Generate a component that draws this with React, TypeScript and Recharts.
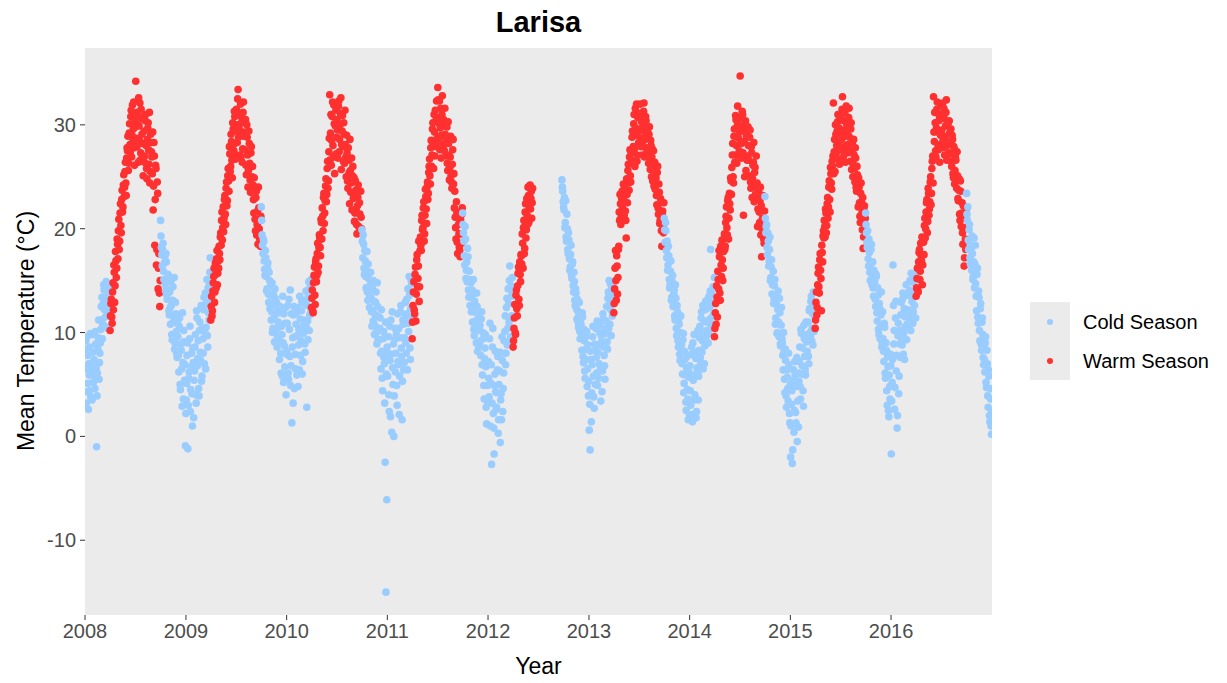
import { ScatterChart, Scatter, XAxis, YAxis, CartesianGrid } from "recharts";

// Daily mean temperature at Larisa. Each segment has two readings
// every 3 days: `a` from the segment start, `b` offset by 1.5 days.

// Jan 1 – Mar 31 2008
const cold2008a = [
  6.5, 9.2, 4.3, 7.8, 2.6, 5.9, 8.6, 3.8, 6.7, 9.8, 5.2,
  7.4, 4.6, 8.9, -1.0, 6.1, 9.5, 5.5, 8.0, 10.3,
  11.2, 9.4, 12.8, 14.1, 10.6, 13.3, 14.8, 11.9, 13.6, 12.4, 14.5,
];
const cold2008b = [
  8.4, 3.2, 9.6, 5.1, 7.0, 4.4, 9.9, 6.2, 3.5, 8.1, 7.3,
  5.8, 10.1, 6.6, 3.9, 8.4, 11.2, 7.1, 9.0, 12.5,
  13.4, 10.8, 14.6, 12.2, 11.5, 14.9, 13.0, 10.4, 14.2, 13.7, 12.0,
];
const warm2008a = [
  10.2, 12.8, 11.5, 13.9, 12.2, 15.8, 14.5, 16.9, 16.2, 18.5,
  19.8, 18.0, 21.5, 20.3, 22.8, 21.6, 24.2, 23.1, 25.5, 24.4, 26.8,
  27.5, 25.6, 29.2, 28.1, 30.8, 26.9, 31.9, 29.6, 27.8, 30.4,
  34.2, 28.7, 31.2, 26.4, 29.9, 32.1, 27.3, 30.6, 28.2, 25.1,
  29.4, 27.0, 31.0, 25.8, 28.6, 30.2, 26.2, 24.4, 29.1, 27.4,
  25.3, 21.8, 28.3, 18.4, 26.1, 16.5, 24.5, 14.2, 17.6, 12.5,
];
const warm2008b = [
  11.6, 13.2, 10.9, 14.8, 16.5, 12.9, 17.8, 15.3, 19.0, 17.1,
  20.9, 18.8, 22.4, 19.6, 23.7, 22.1, 25.2, 24.0, 26.4, 23.2, 27.8,
  28.9, 26.3, 30.1, 27.4, 31.4, 29.0, 28.4, 32.2, 26.1, 29.8,
  31.0, 27.9, 30.0, 32.6, 28.5, 26.6, 31.5, 29.1, 27.0, 30.8,
  26.4, 30.4, 28.0, 24.8, 29.7, 27.6, 31.2, 25.5, 28.3, 26.9,
  29.3, 24.1, 27.0, 22.8, 25.8, 18.0, 23.4, 16.2, 13.8, 15.0,
];
// Oct 1 2008 – Mar 31 2009
const cold0809a = [
  20.8, 18.2, 16.4, 18.6, 15.1, 17.3, 14.0, 16.8, 13.2, 15.6, 12.1,
  13.9, 10.8, 12.6, 9.3, 14.4, 11.5, 8.4, 12.9, 10.1, 7.6,
  9.6, 6.2, 11.4, 4.5, 8.3, 2.9, 7.1, 10.2, 5.4, -0.9,
  3.5, 7.8, -1.2, 5.6, 9.4, 2.4, 6.7, 4.1, 8.5, 1.8,
  6.3, 9.8, 3.2, 11.4, 7.5, 4.6, 10.2, 8.1, 12.6, 5.8,
  9.4, 12.2, 7.0, 13.8, 10.5, 15.1, 8.6, 11.9, 14.6, 17.2,
];
const cold0809b = [
  19.3, 17.5, 18.0, 15.9, 16.7, 14.6, 17.6, 13.6, 15.0, 14.1, 11.7,
  12.4, 14.9, 9.8, 13.1, 11.0, 15.3, 9.0, 11.8, 8.0, 10.9,
  7.8, 10.6, 5.0, 8.9, 6.5, 11.9, 3.6, 9.1, 6.9, 2.2,
  5.1, 9.0, 3.0, 6.2, 10.6, 4.5, 8.0, 1.0, 7.1, 5.4,
  8.6, 4.0, 12.1, 6.8, 9.2, 3.9, 11.0, 7.3, 5.3, 10.4,
  8.0, 13.4, 10.0, 6.5, 12.8, 9.7, 14.3, 11.2, 15.8, 13.0,
];
const warm2009a = [
  11.2, 13.5, 12.1, 14.8, 16.2, 13.9, 15.6, 17.1, 14.6, 16.9,
  18.3, 17.0, 19.6, 20.8, 18.9, 22.1, 21.0, 23.2, 20.4, 24.5, 22.7,
  25.8, 23.6, 27.2, 26.0, 28.4, 24.9, 29.6, 27.5, 30.8, 26.7,
  31.5, 28.3, 33.4, 29.8, 27.1, 32.0, 30.2, 26.4, 31.2, 28.9,
  27.6, 30.5, 25.2, 28.8, 24.0, 29.4, 26.3, 23.5, 27.9, 25.0,
  24.2, 21.5, 22.9, 19.8, 23.6, 20.4, 18.5, 22.0, 19.1, 18.3,
];
const warm2009b = [
  12.5, 11.6, 14.0, 15.4, 12.9, 16.7, 14.3, 17.9, 15.7, 16.2,
  17.6, 19.2, 18.4, 21.6, 20.1, 19.7, 22.8, 21.4, 23.9, 22.2, 25.1,
  24.6, 27.9, 25.5, 29.1, 26.6, 30.2, 28.1, 31.3, 27.0, 29.4,
  30.0, 32.5, 28.8, 31.0, 29.4, 26.9, 30.7, 27.7, 32.2, 29.3,
  29.0, 26.1, 30.0, 27.1, 25.6, 28.2, 24.7, 27.3, 23.9, 26.0,
  22.8, 24.9, 20.9, 23.0, 19.4, 21.7, 24.0, 20.0, 18.9, 21.2,
];
const cold0910a = [
  22.1, 19.4, 17.6, 18.8, 16.1, 17.9, 15.4, 14.2, 16.7, 12.9, 15.0,
  13.6, 11.2, 14.8, 10.4, 12.7, 9.1, 13.3, 11.8, 8.6, 12.2,
  10.5, 7.4, 11.9, 6.1, 9.8, 13.5, 5.2, 8.7, 10.9, 4.0,
  8.2, 12.6, 5.5, 10.3, 14.1, 6.8, 1.3, 9.5, 11.7, 4.6,
  7.9, 10.8, 5.9, 12.4, 8.8, 6.4, 11.3, 9.2, 13.0, 7.2,
  9.9, 12.8, 8.1, 14.0, 2.8, 11.1, 13.6, 10.2, 14.4, 12.0,
];
const cold0910b = [
  20.8, 18.4, 19.0, 16.9, 15.5, 17.2, 14.0, 16.2, 13.7, 15.8, 12.3,
  14.5, 12.0, 10.0, 13.7, 11.4, 14.2, 10.1, 12.9, 9.6, 11.0,
  9.2, 12.5, 8.0, 10.6, 5.8, 9.0, 11.8, 6.7, 12.4, 7.9,
  10.9, 6.1, 13.2, 7.7, 4.9, 11.8, 8.6, 3.2, 12.5, 9.6,
  6.5, 11.9, 9.7, 4.8, 10.3, 13.5, 7.8, 12.1, 6.0, 10.6,
  11.2, 8.9, 13.1, 10.5, 12.6, 9.3, 14.9, 11.7, 13.3, 15.1,
];
const warm2010a = [
  12.4, 14.1, 11.9, 15.5, 13.6, 16.8, 14.9, 17.6, 15.8, 18.2,
  19.1, 17.4, 20.6, 22.0, 19.8, 23.4, 21.5, 24.1, 22.6, 25.8, 23.9,
  27.4, 32.9, 29.2, 26.1, 30.8, 28.0, 31.9, 25.3, 29.9, 27.2,
  30.5, 26.8, 32.3, 28.6, 31.1, 25.7, 29.4, 27.9, 30.2, 26.3,
  28.1, 25.0, 27.3, 23.9, 26.6, 22.4, 25.6, 24.4, 21.8, 26.0,
  23.2, 20.7, 24.6, 21.9, 19.5, 23.0, 20.2, 22.5, 19.9, 21.1,
];
const warm2010b = [
  13.3, 12.1, 14.8, 16.3, 12.7, 17.1, 15.5, 18.6, 16.4, 19.4,
  18.2, 20.9, 19.0, 21.2, 23.0, 20.5, 22.7, 24.8, 23.3, 26.5, 24.6,
  28.7, 26.6, 31.0, 28.5, 32.2, 27.0, 30.1, 26.9, 31.4, 28.8,
  29.5, 31.8, 27.4, 30.0, 32.6, 28.1, 30.9, 26.5, 29.1, 31.4,
  26.9, 29.0, 24.6, 27.8, 25.4, 28.6, 23.5, 26.8, 25.1, 22.9,
  24.9, 21.5, 23.7, 20.4, 22.2, 24.2, 19.6, 21.4, 23.6, 20.0,
];
const cold1011a = [
  19.9, 17.2, 18.5, 15.6, 16.9, 14.3, 17.8, 13.1, 15.2, 12.4, 14.6,
  13.3, 10.6, 12.1, 15.0, 9.8, 11.7, 13.9, 8.9, 12.5, 10.2,
  9.3, 11.4, 6.5, 8.2, 4.4, 10.1, 7.0, -2.5, -15.0, -6.1,
  5.8, 9.6, 2.4, 7.3, 11.2, 0.4, 6.6, 8.9, 3.9, 10.4,
  8.0, 4.9, 11.8, 6.9, 2.1, 9.5, 12.6, 7.7, 5.3, 10.8,
  7.1, 11.5, 9.0, 13.2, 6.4, 10.9, 15.4, 8.5, 12.3, 14.7,
];
const cold1011b = [
  18.8, 19.4, 16.2, 17.9, 15.4, 16.0, 13.9, 16.6, 14.0, 13.5, 15.8,
  12.0, 14.3, 11.1, 13.0, 10.7, 12.9, 10.0, 14.8, 9.3, 11.5,
  10.4, 8.0, 12.2, 5.6, 9.4, 7.6, 3.2, 11.0, 6.0, 8.6,
  8.0, 4.0, 10.6, 1.9, 7.9, 12.0, 5.0, 0.0, 9.3, 6.2,
  9.8, 3.0, 7.2, 10.4, 5.8, 12.0, 8.5, 1.6, 11.2, 6.4,
  9.5, 12.9, 8.0, 11.8, 14.2, 10.1, 13.6, 7.4, 15.0, 11.3,
];
const warm2011a = [
  9.4, 12.6, 14.9, 11.8, 16.3, 13.7, 17.5, 15.2, 18.8, 14.4,
  19.2, 17.9, 21.3, 20.1, 22.6, 19.5, 23.8, 21.9, 24.0, 22.8, 25.4,
  26.7, 24.3, 28.5, 27.1, 30.2, 25.8, 29.3, 31.4, 27.9, 30.7,
  33.6, 28.4, 32.3, 29.7, 26.8, 31.0, 28.9, 30.5, 27.5, 29.1,
  27.0, 29.8, 25.6, 28.2, 24.7, 26.9, 25.1, 23.9, 27.6, 24.3,
  22.0, 21.1, 19.0, 21.6, 17.6, 20.4, 18.2, 17.3, 19.5, 21.4,
];
const warm2011b = [
  11.0, 13.9, 12.2, 15.6, 11.1, 17.0, 14.4, 16.4, 13.0, 17.9,
  18.4, 20.8, 19.9, 22.0, 18.8, 21.3, 23.1, 20.5, 24.5, 23.4, 26.0,
  25.1, 27.8, 26.0, 29.6, 28.2, 31.0, 27.0, 30.4, 32.3, 28.8,
  32.4, 30.1, 27.6, 31.6, 29.0, 32.8, 27.9, 30.0, 31.6, 28.3,
  28.7, 26.3, 30.3, 27.1, 25.9, 28.9, 24.5, 26.2, 28.6, 25.3,
  23.6, 20.1, 22.6, 18.7, 21.0, 19.5, 17.9, 20.9, 18.6, 22.0,
];
const cold1112a = [
  21.5, 19.6, 17.4, 20.2, 15.2, 16.8, 18.1, 14.1, 15.9, 12.6, 14.8,
  13.4, 11.0, 15.1, 9.7, 12.3, 10.5, 13.8, 8.2, 11.6, 9.0,
  10.7, 7.8, 12.0, 5.9, 9.4, 3.6, 8.5, 6.7, 1.2, 4.9,
  7.2, 3.8, 10.9, 5.1, -2.7, 8.6, 2.2, -1.7, 6.0, 4.3,
  2.8, 6.4, 0.3, 5.0, 8.1, 3.5, 1.6, 7.3, 4.6, 9.2,
  10.1, 6.9, 12.4, 8.8, 14.2, 11.0, 16.4, 9.6, 13.5, 15.3,
];
const cold1112b = [
  20.4, 18.8, 16.5, 19.0, 16.0, 14.9, 17.3, 13.4, 15.1, 13.8, 12.0,
  14.1, 12.0, 10.3, 13.0, 11.1, 9.0, 12.5, 10.8, 8.7, 10.2,
  9.2, 11.3, 6.9, 10.0, 4.9, 7.5, 9.8, 2.8, 7.1, 3.3,
  5.6, 9.4, 1.0, 6.9, 3.2, 10.4, 0.8, 4.9, 8.2, 2.6,
  4.2, 7.7, 1.6, 6.3, -0.6, 4.1, 9.6, 2.4, 6.1, 8.0,
  11.6, 8.0, 13.3, 10.4, 12.8, 15.0, 9.1, 14.5, 11.6, 13.9,
];
// record stops in mid June 2012
const warm2012a = [
  8.6, 10.4, 12.7, 9.8, 14.1, 11.6, 15.7, 13.2, 16.8, 14.9,
  17.4, 19.5, 16.2, 20.8, 18.1, 22.4, 19.9, 21.3, 24.0, 20.6, 23.1,
  21.9, 23.6, 22.5,
];
const warm2012b = [
  9.2, 11.4, 10.0, 13.6, 12.3, 14.5, 16.3, 12.6, 15.6, 17.5,
  16.6, 18.6, 20.1, 17.6, 21.6, 19.1, 22.9, 20.4, 23.2, 22.0, 24.2,
  22.9, 21.0, 23.9,
];
// resumes Sep 25 2012
const cold1213a = [
  24.7, 23.6,
  22.1, 23.0, 20.6, 19.2, 21.4, 18.0, 19.6, 17.1, 16.3, 18.4, 15.2,
  16.8, 13.9, 14.9, 12.6, 13.8, 11.3, 12.1, 10.5, 12.9, 9.4,
  10.8, 8.3, 11.5, 7.1, 9.2, 5.6, 8.4, 10.1, 6.5, 3.9,
  0.6, -1.3, 7.4, 4.2, 9.6, 5.8, 2.7, 8.3, 10.4, 6.1,
  4.9, 8.8, 7.0, 10.7, 3.4, 9.1, 6.3, 11.3, 7.8, 5.5,
  9.9, 12.5, 8.4, 13.9, 15.0, 10.8, 12.2, 14.3, 11.6, 13.1,
];
const cold1213b = [
  24.0, 22.6,
  21.8, 20.1, 22.7, 18.8, 20.0, 17.6, 18.9, 16.0, 17.5, 15.6, 16.6,
  14.5, 15.8, 13.1, 14.2, 12.3, 13.2, 11.0, 11.8, 10.1, 11.2,
  9.9, 11.9, 7.7, 10.3, 6.3, 9.6, 7.4, 4.8, 8.8, 5.3,
  3.1, 8.2, 1.4, 6.9, 10.6, 3.8, 8.9, 5.0, 7.6, 11.1,
  8.1, 5.6, 10.0, 6.6, 9.7, 4.3, 11.8, 8.6, 6.8, 10.4,
  11.1, 9.1, 13.3, 10.4, 12.9, 14.7, 9.7, 13.6, 12.0, 14.9,
];
const warm2013a = [
  11.9, 14.2, 17.9, 13.1, 16.4, 15.3, 18.3, 20.8, 22.4, 21.1,
  23.6, 20.9, 22.8, 24.0, 21.7, 19.1, 23.3, 25.6, 24.4, 26.9, 25.1,
  27.3, 28.8, 26.2, 30.1, 27.7, 31.6, 29.0, 26.5, 30.7, 28.3,
  29.6, 32.0, 27.9, 30.9, 28.4, 31.3, 26.9, 29.2, 30.4, 27.4,
  28.9, 26.3, 29.8, 25.7, 28.0, 26.9, 24.6, 27.5, 25.2, 23.8,
  24.9, 22.3, 26.0, 21.4, 23.5, 20.8, 22.6, 18.3, 21.7, 19.6,
];
const warm2013b = [
  12.8, 16.2, 15.0, 17.4, 13.7, 18.0, 21.6, 23.3, 20.4, 22.9,
  22.1, 24.3, 21.3, 23.8, 20.8, 24.8, 22.5, 26.2, 23.7, 27.6, 24.5,
  26.6, 29.4, 27.9, 31.0, 26.0, 29.7, 32.0, 27.1, 29.3, 31.1,
  31.0, 28.7, 30.3, 27.1, 29.8, 32.1, 28.6, 30.8, 27.8, 29.4,
  27.4, 29.1, 26.8, 28.5, 25.0, 27.7, 25.9, 24.1, 26.4, 24.6,
  23.2, 25.4, 22.0, 24.3, 20.5, 22.9, 19.8, 21.4, 20.2, 22.5,
];
const cold1314a = [
  21.0, 18.7, 19.8, 17.2, 16.0, 18.3, 15.1, 14.6, 16.9, 13.4, 15.5,
  12.9, 14.1, 11.2, 13.3, 9.7, 12.0, 8.6, 10.8, 7.3, 11.6,
  8.9, 6.0, 9.9, 5.1, 7.4, 3.3, 6.6, 4.5, 1.6, 5.7,
  6.8, 3.0, 8.6, 1.4, 5.4, 9.8, 4.0, 7.5, 2.4, 6.2,
  3.5, 8.3, 10.6, 7.1, 12.0, 9.2, 6.5, 11.1, 8.7, 13.0,
  10.2, 12.4, 9.0, 13.5, 11.3, 18.0, 12.9, 10.7, 14.4, 11.8,
];
const cold1314b = [
  19.9, 20.6, 17.9, 18.8, 16.5, 17.4, 14.3, 15.9, 13.1, 14.9, 12.5,
  13.7, 11.6, 14.6, 10.4, 12.6, 9.2, 11.3, 7.9, 10.0, 8.4,
  7.0, 9.3, 4.2, 8.2, 5.9, 2.5, 7.7, 3.6, 6.3, 2.0,
  4.4, 7.9, 2.1, 9.0, 5.9, 3.5, 8.1, 1.8, 6.6, 10.2,
  5.8, 9.5, 7.6, 11.4, 8.1, 12.6, 10.0, 7.0, 12.2, 9.6,
  11.0, 13.2, 9.9, 12.4, 14.0, 10.5, 13.7, 11.6, 12.8, 15.3,
];
const warm2014a = [
  9.6, 11.9, 10.8, 13.4, 15.9, 14.2, 17.3, 13.1, 16.5, 18.9,
  15.0, 17.8, 19.5, 18.3, 21.2, 20.1, 22.7, 19.0, 23.4, 21.8, 24.6,
  25.9, 28.2, 24.4, 29.6, 27.1, 30.5, 26.3, 31.8, 28.7, 27.5,
  34.7, 29.9, 26.8, 31.0, 21.3, 28.4, 30.2, 25.6, 29.1, 27.0,
  28.0, 25.1, 29.5, 23.9, 27.3, 24.8, 26.4, 22.6, 25.9, 24.0,
  23.1, 20.2, 24.0, 21.6, 22.7, 19.4, 17.3, 21.0, 20.4, 18.6,
];
const warm2014b = [
  10.4, 12.8, 14.5, 11.5, 15.1, 17.9, 13.8, 18.3, 15.4, 17.0,
  16.2, 19.0, 18.0, 20.6, 22.1, 19.4, 23.0, 21.0, 22.4, 24.9, 23.3,
  27.1, 25.0, 28.9, 26.4, 30.9, 28.0, 29.9, 27.0, 30.6, 29.3,
  30.7, 28.2, 31.3, 27.3, 29.6, 25.0, 30.4, 28.9, 26.6, 29.8,
  26.6, 28.8, 24.5, 27.9, 23.0, 26.1, 28.3, 25.4, 23.3, 27.0,
  24.4, 21.9, 23.5, 20.6, 24.0, 22.2, 20.0, 23.2, 19.0, 21.7,
];
const cold1415a = [
  23.1, 19.6, 20.4, 17.5, 18.8, 16.9, 19.2, 15.3, 17.0, 14.6, 15.9,
  13.2, 15.1, 11.4, 12.7, 10.0, 14.0, 9.6, 11.9, 8.7, 12.4,
  9.0, 6.4, 8.1, 4.2, 7.3, 2.8, 5.7, 3.4, 6.9, 1.3,
  -2.0, 3.1, -2.6, 5.4, 0.4, 7.2, 2.3, 4.8, -0.5, 6.1,
  5.3, 8.6, 3.6, 9.9, 6.8, 4.4, 10.7, 7.7, 5.9, 9.1,
  8.2, 11.0, 7.0, 12.3, 9.6, 13.5, 10.4, 8.8, 12.9, 11.6,
];
const cold1415b = [
  21.0, 20.2, 18.2, 19.6, 16.4, 18.0, 15.0, 16.3, 13.7, 15.1, 12.8,
  14.5, 10.8, 13.6, 9.9, 12.2, 11.0, 13.3, 8.9, 10.7, 9.4,
  7.8, 10.0, 5.5, 8.4, 3.9, 6.4, 4.6, 8.0, 2.2, 5.0,
  1.0, 4.4, -1.3, 6.4, 2.5, 5.9, 1.3, 7.6, 3.4, 0.9,
  7.2, 4.8, 10.3, 6.0, 8.5, 2.9, 9.4, 6.4, 11.0, 7.8,
  9.8, 7.7, 12.1, 10.0, 13.0, 9.2, 11.8, 13.9, 10.1, 12.6,
];
const warm2015a = [
  10.4, 12.9, 11.7, 14.6, 16.3, 13.8, 17.6, 15.2, 18.4, 16.8,
  19.8, 20.8, 19.2, 21.5, 20.3, 23.0, 22.1, 24.6, 21.6, 25.3, 23.8,
  26.0, 32.1, 27.4, 25.5, 29.1, 28.0, 30.3, 26.7, 29.7, 27.9,
  30.8, 28.6, 32.7, 26.9, 29.5, 31.2, 28.0, 30.1, 27.3, 29.0,
  31.6, 27.6, 29.6, 25.7, 28.3, 26.2, 27.1, 24.5, 26.8, 23.6,
  25.2, 22.1, 24.0, 21.2, 23.4, 22.6, 19.9, 18.1, 21.8, 20.5,
];
const warm2015b = [
  11.2, 13.9, 12.4, 15.7, 14.4, 17.0, 16.0, 12.1, 17.7, 19.3,
  19.1, 20.2, 21.9, 19.6, 22.4, 21.0, 24.0, 22.8, 25.9, 24.4, 26.5,
  27.0, 25.3, 28.6, 30.0, 27.3, 29.4, 31.0, 28.4, 26.2, 30.6,
  29.2, 31.5, 27.5, 30.4, 28.9, 26.4, 31.8, 29.7, 28.1, 30.7,
  28.8, 26.5, 30.2, 27.4, 25.0, 28.6, 25.8, 27.8, 24.0, 26.0,
  23.9, 24.9, 22.5, 20.6, 24.4, 21.5, 23.0, 19.2, 22.2, 21.0,
];
const cold1516a = [
  21.5, 19.6, 18.2, 17.1, 19.0, 15.8, 16.6, 18.5, 15.4, 14.3, 16.0,
  14.9, 12.5, 15.4, 11.1, 13.6, 9.8, 12.3, 10.6, 13.9, 9.0,
  9.4, 7.2, 10.5, 5.6, 8.3, 3.0, 6.7, 1.9, 4.8, 7.9,
  -1.7, 5.2, 16.5, 8.9, 2.6, 11.4, 6.3, 0.8, 9.7, 4.1,
  10.2, 7.6, 12.9, 8.8, 13.8, 9.9, 7.4, 11.5, 14.6, 10.8,
  12.2, 10.6, 14.1, 11.3, 15.7, 13.0, 10.9, 14.8, 12.6, 15.2,
];
const cold1516b = [
  20.4, 18.7, 19.8, 16.4, 17.7, 15.0, 18.0, 14.6, 16.8, 13.5, 15.1,
  13.2, 15.6, 11.9, 14.3, 10.3, 12.8, 9.4, 11.7, 8.6, 12.0,
  8.2, 10.9, 6.1, 9.0, 4.4, 7.7, 2.5, 5.9, 3.6, 6.8,
  3.4, 7.4, 12.6, 10.2, 4.7, 13.0, 7.8, 2.0, 10.9, 5.8,
  8.9, 11.7, 9.2, 13.2, 7.9, 12.3, 10.5, 13.6, 9.3, 12.1,
  13.6, 11.8, 15.0, 10.2, 13.9, 14.9, 12.0, 13.5, 15.6, 11.4,
];
const warm2016a = [
  13.5, 15.2, 14.1, 16.8, 18.0, 15.9, 17.4, 19.2, 16.5, 18.7,
  20.3, 19.1, 21.6, 22.8, 20.7, 23.4, 21.9, 24.5, 22.3, 25.8, 27.0,
  32.7, 28.4, 30.2, 26.9, 31.5, 29.3, 27.6, 30.9, 28.1, 31.9,
  29.5, 32.1, 27.8, 30.6, 28.9, 31.2, 26.6, 29.9, 28.3, 30.4,
  27.2, 29.6, 26.0, 28.6, 24.9, 27.7, 25.6, 26.6, 23.9, 25.1,
  22.7, 24.8, 20.8, 23.6, 21.5, 19.6, 22.2, 16.4, 20.1, 18.0,
];
const warm2016b = [
  14.3, 16.2, 13.9, 17.7, 15.1, 18.6, 16.9, 14.6, 19.0, 17.5,
  21.0, 20.0, 22.5, 19.6, 23.9, 21.3, 22.6, 25.0, 23.4, 26.5, 24.4,
  29.3, 31.2, 27.5, 29.7, 32.2, 28.0, 30.4, 26.4, 29.0, 31.0,
  30.9, 28.5, 31.6, 27.1, 29.9, 32.4, 28.0, 30.1, 27.3, 29.2,
  28.4, 26.5, 29.0, 25.3, 27.9, 24.3, 26.9, 24.6, 27.4, 22.9,
  23.7, 21.4, 24.6, 20.2, 22.5, 18.5, 21.0, 17.2, 19.0, 21.6,
];
// Oct 1 – Dec 31 2016
const cold2016a = [
  23.4, 20.8, 18.9, 19.9, 17.2, 18.4, 16.0, 17.6, 15.4, 19.1, 16.6,
  14.7, 12.1, 16.2, 10.9, 13.4, 9.2, 12.8, 8.3, 11.4, 7.6,
  8.8, 6.2, 9.6, 4.7, 7.0, 2.8, 5.8, 1.4, 3.6, 0.2,
];
const cold2016b = [
  21.4, 22.1, 18.0, 20.4, 16.6, 17.9, 19.3, 15.1, 16.8, 14.3, 18.4,
  13.5, 15.6, 11.5, 14.0, 10.2, 12.3, 8.9, 11.0, 9.8, 6.9,
  7.4, 9.0, 5.2, 8.3, 3.9, 6.4, 2.0, 4.6, 1.0, 2.4,
];

type Season = "cold" | "warm";
const SEGMENTS: { season: Season; start: [number, number, number]; a: number[]; b: number[] }[] = [
  { season: "cold", start: [2008, 1, 1], a: cold2008a, b: cold2008b },
  { season: "warm", start: [2008, 4, 1], a: warm2008a, b: warm2008b },
  { season: "cold", start: [2008, 10, 1], a: cold0809a, b: cold0809b },
  { season: "warm", start: [2009, 4, 1], a: warm2009a, b: warm2009b },
  { season: "cold", start: [2009, 10, 1], a: cold0910a, b: cold0910b },
  { season: "warm", start: [2010, 4, 1], a: warm2010a, b: warm2010b },
  { season: "cold", start: [2010, 10, 1], a: cold1011a, b: cold1011b },
  { season: "warm", start: [2011, 4, 1], a: warm2011a, b: warm2011b },
  { season: "cold", start: [2011, 10, 1], a: cold1112a, b: cold1112b },
  { season: "warm", start: [2012, 4, 1], a: warm2012a, b: warm2012b },
  { season: "cold", start: [2012, 9, 25], a: cold1213a, b: cold1213b },
  { season: "warm", start: [2013, 4, 1], a: warm2013a, b: warm2013b },
  { season: "cold", start: [2013, 10, 1], a: cold1314a, b: cold1314b },
  { season: "warm", start: [2014, 4, 1], a: warm2014a, b: warm2014b },
  { season: "cold", start: [2014, 10, 1], a: cold1415a, b: cold1415b },
  { season: "warm", start: [2015, 4, 1], a: warm2015a, b: warm2015b },
  { season: "cold", start: [2015, 10, 1], a: cold1516a, b: cold1516b },
  { season: "warm", start: [2016, 4, 1], a: warm2016a, b: warm2016b },
  { season: "cold", start: [2016, 10, 1], a: cold2016a, b: cold2016b },
];

const YEARS = [2008, 2009, 2010, 2011, 2012, 2013, 2014, 2015, 2016];
const Y_TICKS = [-10, 0, 10, 20, 30];

const DAY = 86400000;
const STEP_DAYS = 3;
const COLORS: Record<Season, string> = { cold: "#99CCFF", warm: "#FF3030" };
const FONT = "'Liberation Sans', Arial, sans-serif";

const series = SEGMENTS.map((s) => {
  const t0 = Date.UTC(s.start[0], s.start[1] - 1, s.start[2]);
  const pts = [
    ...s.a.map((v, i) => ({ date: t0 + i * STEP_DAYS * DAY, temp: v })),
    ...s.b.map((v, i) => ({ date: t0 + (i + 0.5) * STEP_DAYS * DAY, temp: v })),
  ].sort((p, q) => p.date - q.date);
  return { season: s.season, data: pts };
});

const dot = (fill: string) => (props: any) =>
  <circle cx={props.cx} cy={props.cy} r={3.8} fill={fill} />;

export default function App() {
  return (
    <div style={{ position: "relative", width: 1227, height: 683, background: "#fff", fontFamily: FONT }}>
      <style>{"body{margin:0}"}</style>

      <div style={{ position: "absolute", left: 85, top: 6, width: 907, textAlign: "center", fontSize: 29, fontWeight: "bold", lineHeight: "32px", color: "#000" }}>
        Larisa
      </div>

      <ScatterChart width={1227} height={683} margin={{ top: 48, right: 235, bottom: 38, left: 25 }}>
        <CartesianGrid fill="#EBEBEB" stroke="none" horizontal={false} vertical={false} />
        <XAxis
          type="number"
          dataKey="date"
          domain={[Date.UTC(2008, 0, 1), Date.UTC(2017, 0, 1)]}
          allowDataOverflow
          ticks={YEARS.map((y) => Date.UTC(y, 0, 1))}
          tickFormatter={(t) => String(new Date(t).getUTCFullYear())}
          axisLine={false}
          tickLine={{ stroke: "#333333" }}
          tickSize={5}
          tickMargin={4}
          height={30}
          tick={{ fill: "#4D4D4D", fontSize: 20, fontFamily: FONT }}
        />
        <YAxis
          type="number"
          dataKey="temp"
          domain={[-17.2, 37.4]}
          allowDataOverflow
          ticks={Y_TICKS}
          axisLine={false}
          tickLine={{ stroke: "#333333" }}
          tickSize={5}
          tickMargin={4}
          width={60}
          tick={{ fill: "#4D4D4D", fontSize: 20, fontFamily: FONT }}
        />
        {series.map((s, i) => (
          <Scatter
            key={i}
            data={s.data}
            fill={COLORS[s.season]}
            shape={dot(COLORS[s.season])}
            isAnimationActive={false}
          />
        ))}
      </ScatterChart>

      <div style={{ position: "absolute", left: 85, top: 653, width: 907, textAlign: "center", fontSize: 23, lineHeight: "26px", color: "#000" }}>
        Year
      </div>
      <div
        style={{
          position: "absolute", left: 26 - 200, top: 331 - 13, width: 400, height: 26,
          textAlign: "center", fontSize: 23, lineHeight: "26px", color: "#000",
          transform: "rotate(-90deg)",
        }}
      >
        Mean Temperature (°C)
      </div>

      {/* legend */}
      <div style={{ position: "absolute", left: 1030, top: 302, width: 40, height: 78, background: "#EBEBEB" }} />
      {(["cold", "warm"] as const).map((k, i) => (
        <div key={k}>
          <div style={{ position: "absolute", left: 1047, top: 319 + i * 39, width: 6, height: 6, borderRadius: 3, background: COLORS[k] }} />
          <div style={{ position: "absolute", left: 1083, top: 309 + i * 39, fontSize: 20, lineHeight: "26px", color: "#000" }}>
            {k === "cold" ? "Cold Season" : "Warm Season"}
          </div>
        </div>
      ))}
    </div>
  );
}
